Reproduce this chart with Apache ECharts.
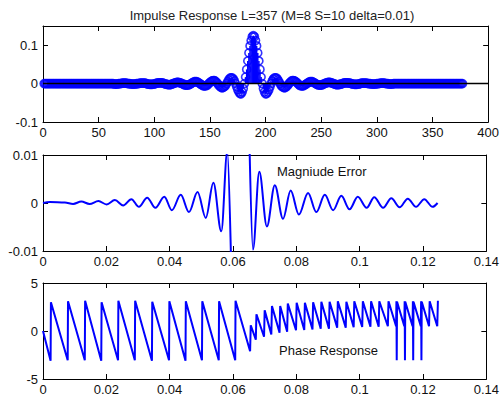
<!DOCTYPE html>
<html><head><meta charset="utf-8">
<script src="https://cdn.jsdelivr.net/npm/echarts@6/dist/echarts.min.js"></script>
<style>html,body{margin:0;padding:0;background:#fff}#c{width:502px;height:402px}</style>
</head><body><div id="c"></div>
<script>
const titleText = 'Impulse Response L=357 (M=8 S=10 delta=0.01)';
const errLabel = 'Magniude Error';
const phaseLabel = 'Phase Response';

// impulse response, samples n = 1 .. 377
const impulseStart = 1;
const impulse = [
0,0,0,0,0,0,0,0,0,0,
0,0,0,0,0,0,0,0,0,0,
0,0,0,0,0,0,0,0,0,0,
0,0,0,0,0,0,0,0,0,0,
0,0,0,0,0,0,0,0,0,0,
0,0,0,0,0,0,0,0,0,0,
0,0,0,
-0.001,-0.001,-0.001,-0.001,0,
0,0,0.001,0.001,0.001,0.001,0.001,0,0,0,
-0.001,-0.001,-0.001,-0.001,-0.001,0,0,0,0.001,0.001,
0.001,0.001,0.001,0.001,0,-0.001,-0.001,-0.002,-0.002,-0.002,
-0.001,-0.001,0,0.001,0.001,0.002,0.002,0.002,0.002,0.001,
0,-0.001,-0.002,-0.002,-0.003,-0.003,-0.002,-0.001,0,0.001,
0.002,0.003,0.003,0.003,0.002,0.001,0,-0.001,-0.003,-0.004,
-0.004,-0.004,-0.003,-0.002,0,0.002,0.003,0.005,0.005,0.005,
0.004,0.002,0,-0.002,-0.004,-0.006,-0.006,-0.006,-0.005,-0.003,
0,0.003,0.005,0.007,0.008,0.008,0.006,0.003,0,-0.004,
-0.007,-0.010,-0.011,-0.010,-0.008,-0.005,0,0.005,0.010,0.014,
0.015,0.015,0.012,0.007,0,-0.008,-0.016,-0.022,-0.026,-0.027,
-0.022,-0.013,0,0.017,0.037,0.059,0.080,0.098,0.112,0.122,
0.125,
0.122,0.112,0.098,0.080,0.059,0.037,0.017,0,-0.013,-0.022,
-0.027,-0.026,-0.022,-0.016,-0.008,0,0.007,0.012,0.015,0.015,
0.014,0.010,0.005,0,-0.005,-0.008,-0.010,-0.011,-0.010,-0.007,
-0.004,0,0.003,0.006,0.008,0.008,0.007,0.005,0.003,0,
-0.003,-0.005,-0.006,-0.006,-0.006,-0.004,-0.002,0,0.002,0.004,
0.005,0.005,0.005,0.003,0.002,0,-0.002,-0.003,-0.004,-0.004,
-0.004,-0.003,-0.001,0,0.001,0.002,0.003,0.003,0.003,0.002,
0.001,0,-0.001,-0.002,-0.003,-0.003,-0.002,-0.002,-0.001,0,
0.001,0.002,0.002,0.002,0.002,0.001,0.001,0,-0.001,-0.001,
-0.002,-0.002,-0.002,-0.001,-0.001,0,0.001,0.001,0.001,0.001,
0.001,0.001,0,0,0,-0.001,-0.001,-0.001,-0.001,-0.001,
0,0,0,0.001,0.001,0.001,0.001,0.001,0,0,
0,-0.001,-0.001,-0.001,-0.001,
0,0,0,0,0,0,0,0,0,0,
0,0,0,0,0,0,0,0,0,0,
0,0,0,0,0,0,0,0,0,0,
0,0,0,0,0,0,0,0,0,0,
0,0,0,0,0,0,0,0,0,0,
0,0,0,0,0,0,0,0,0,0,
0,0,0
];

// magnitude error, passband part (leaves the view at the bottom)
const errPassFreq = [0,0.0022,0.0069,0.0095,0.0121,0.0147,0.0175,0.0201,0.0227,0.0253,0.0279,0.0303,0.0329,0.0355,0.0383,0.0407,0.0435,0.0461,0.0488,0.0514,0.0538,0.0563,0.0582,0.0598];
const errPassVal  = [0,0.0002,0.0001,-0.0002,0.0003,-0.0002,0.0004,-0.0003,0.0006,-0.0005,0.0008,-0.0008,0.0011,-0.0010,0.0013,-0.0015,0.0017,-0.0019,0.0023,-0.0031,0.0042,-0.0059,0.0108,-0.025];
// magnitude error, stopband part (enters the view from the top)
const errStopFreq = [0.0648,0.0663,0.0683,0.0707,0.0732,0.0758,0.0782,0.0808,0.0837,0.0863,0.0890,0.0916,0.0942,0.0968,0.0994,0.1022,0.1046,0.1074,0.1100,0.1126,0.1152,0.1178,0.1204,0.1230,0.1246];
const errStopVal  = [0.025,-0.0097,0.0065,-0.0049,0.0037,-0.0033,0.0026,-0.0024,0.0021,-0.0019,0.0017,-0.0015,0.0015,-0.0013,0.0013,-0.0010,0.0012,-0.0010,0.0010,-0.0009,0.0009,-0.0008,0.0008,-0.0008,0.0000];

// phase response
const phaseFreq = [
0,0.0024,0.0025,0.0078,0.0079,0.0132,0.0133,0.0184,0.0185,0.0237,0.0238,0.0290,0.0291,0.0344,0.0345,0.0398,0.0399,0.0450,0.0451,0.0502,0.0503,0.0555,0.0556,0.0607,0.0608,
0.0654,0.0656,0.0672,0.0674,0.0698,0.0700,0.0721,0.0723,0.0747,0.0749,0.0771,0.0773,0.0799,0.0801,0.0825,0.0827,0.0851,0.0853,0.0877,0.0879,0.0903,0.0905,0.0929,0.0931,0.0956,0.0958,0.0981,0.0983,0.1008,0.1010,0.1034,0.1036,0.1060,0.1062,0.1089,0.1091,
0.1115,0.1116,0.1117,0.1118,0.1141,0.1142,0.1143,0.1144,0.1167,0.1168,0.1169,0.1170,0.1193,0.1194,0.1195,0.1196,0.1219,0.1221,0.1245,0.1247];
const phaseVal = [
0,-3.1,3.0,-3.05,3.1,-3.05,3.15,-3.1,3.0,-3.05,3.15,-3.05,3.15,-3.1,3.05,-3.05,3.1,-3.1,3.1,-3.05,3.1,-3.05,3.1,-3.05,3.15,
-2.1,0.6,-0.9,1.75,-0.6,2.15,-0.35,2.6,-0.17,2.6,-0.07,2.85,0.07,2.95,0.1,2.95,0.17,3.0,0.24,3.05,0.24,3.05,0.35,3.1,0.35,3.05,0.4,3.1,0.42,3.1,0.45,3.1,0.45,3.1,0.5,3.1,
0.5,3.1,-3.05,3.05,0.5,3.1,-3.05,3.05,0.5,3.1,-3.05,3.05,0.5,3.1,-3.05,3.05,0.5,3.1,0.5,3.15];

const FONT = '"Liberation Sans", Arial, Helvetica, sans-serif';
const BLUE = '#0000ff';

function xAx(grid, min, max, interval, pos, showLabel) {
  return {type:'value', gridIndex:grid, position:pos, min:min, max:max, interval:interval,
    axisLine:{show:true, onZero:false, lineStyle:{color:'#000', width:1}},
    axisTick:{show:true, inside:true, length:5, lineStyle:{color:'#000', width:1}},
    axisLabel:{show:showLabel, color:'#111', fontSize:13, fontFamily:FONT, margin:4},
    splitLine:{show:false}};
}
function yAx(grid, min, max, interval, pos, showLabel, hideMax) {
  return {type:'value', gridIndex:grid, position:pos, min:min, max:max, interval:interval,
    axisLine:{show:true, onZero:false, lineStyle:{color:'#000', width:1}},
    axisTick:{show:true, inside:true, length:5, lineStyle:{color:'#000', width:1}},
    axisLabel:{show:showLabel, color:'#111', fontSize:13, fontFamily:FONT, margin:5, showMaxLabel:!hideMax},
    splitLine:{show:false}};
}

const impulsePts = impulse.map((v, i) => [impulseStart + i, v]);
const errPassPts = errPassFreq.map((f, i) => [f, errPassVal[i]]);
const errStopPts = errStopFreq.map((f, i) => [f, errStopVal[i]]);
const phasePts = phaseFreq.map((f, i) => [f, phaseVal[i]]);

const chart = echarts.init(document.getElementById('c'), null, {renderer:'svg'});
chart.setOption({
  animation:false,
  backgroundColor:'#fff',
  title:{text:titleText, left:267, top:4, textAlign:'center',
    textStyle:{fontSize:13, fontWeight:'normal', color:'#222', fontFamily:FONT}},
  grid:[
    {left:43, width:448, top:26, height:96},
    {left:43, width:448, top:155, height:96},
    {left:43, width:448, top:283, height:96}
  ],
  xAxis:[
    xAx(0,0,400,50,'bottom',true), xAx(0,0,400,50,'top',false),
    xAx(1,0,0.14,0.02,'bottom',true), xAx(1,0,0.14,0.02,'top',false),
    xAx(2,0,0.14,0.02,'bottom',true), xAx(2,0,0.14,0.02,'top',false)
  ],
  yAxis:[
    yAx(0,-0.1,0.15,0.1,'left',true,true), yAx(0,-0.1,0.15,0.1,'right',false,true),
    yAx(1,-0.01,0.01,0.01,'left',true,false), yAx(1,-0.01,0.01,0.01,'right',false,false),
    yAx(2,-5,5,5,'left',true,false), yAx(2,-5,5,5,'right',false,false)
  ],
  graphic:[
    {type:'text', left:277, top:165, style:{text:errLabel, font:'13px ' + FONT, fill:'#111'}},
    {type:'text', left:279, top:344, style:{text:phaseLabel, font:'13px ' + FONT, fill:'#111'}}
  ],
  series:[
    {type:'bar', xAxisIndex:0, yAxisIndex:0, data:impulsePts, barWidth:1.5, itemStyle:{color:BLUE}, silent:true},
    {type:'scatter', xAxisIndex:0, yAxisIndex:0, data:impulsePts, symbol:'circle', symbolSize:8,
      itemStyle:{color:'rgba(0,0,255,0)', borderColor:BLUE, borderWidth:1.6}, silent:true},
    {type:'line', xAxisIndex:0, yAxisIndex:0, data:[[0,0],[400,0]], symbol:'none',
      lineStyle:{color:'#000', width:1.5}, z:5, silent:true},
    {type:'line', xAxisIndex:2, yAxisIndex:2, data:errPassPts, symbol:'none', smooth:0.35, smoothMonotone:'x',
      lineStyle:{color:BLUE, width:2}, clip:true, silent:true},
    {type:'line', xAxisIndex:2, yAxisIndex:2, data:errStopPts, symbol:'none', smooth:0.35, smoothMonotone:'x',
      lineStyle:{color:BLUE, width:2}, clip:true, silent:true},
    {type:'line', xAxisIndex:4, yAxisIndex:4, data:phasePts, symbol:'none',
      lineStyle:{color:BLUE, width:2}, clip:true, silent:true}
  ]
});
</script></body></html>
